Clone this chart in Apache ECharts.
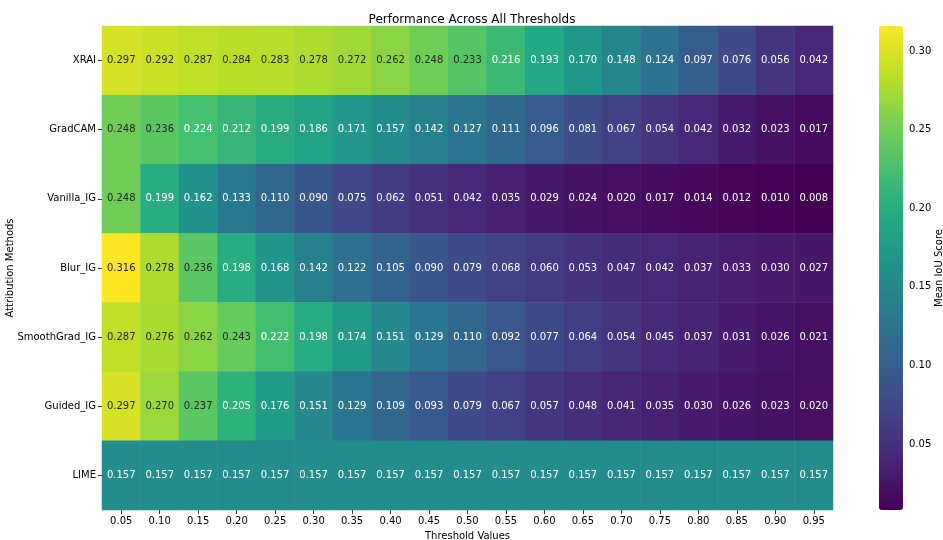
<!DOCTYPE html>
<html>
<head>
<meta charset="utf-8">
<script src="https://cdn.jsdelivr.net/npm/echarts@6/dist/echarts.min.js"></script>
<style>html,body{margin:0;padding:0;background:#fff}#chart{width:943px;height:540px}</style>
</head>
<body>
<div id="chart"></div>
<script>
var thresholds = ['0.05','0.10','0.15','0.20','0.25','0.30','0.35','0.40','0.45','0.50','0.55','0.60','0.65','0.70','0.75','0.80','0.85','0.90','0.95'];
var methods = ['XRAI','GradCAM','Vanilla_IG','Blur_IG','SmoothGrad_IG','Guided_IG','LIME'];
var xrai = [0.297,0.292,0.287,0.284,0.283,0.278,0.272,0.262,0.248,0.233,0.216,0.193,0.170,0.148,0.124,0.097,0.076,0.056,0.042];
var gradcam = [0.248,0.236,0.224,0.212,0.199,0.186,0.171,0.157,0.142,0.127,0.111,0.096,0.081,0.067,0.054,0.042,0.032,0.023,0.017];
var vanillaIG = [0.248,0.199,0.162,0.133,0.110,0.090,0.075,0.062,0.051,0.042,0.035,0.029,0.024,0.020,0.017,0.014,0.012,0.010,0.008];
var blurIG = [0.316,0.278,0.236,0.198,0.168,0.142,0.122,0.105,0.090,0.079,0.068,0.060,0.053,0.047,0.042,0.037,0.033,0.030,0.027];
var smoothGradIG = [0.287,0.276,0.262,0.243,0.222,0.198,0.174,0.151,0.129,0.110,0.092,0.077,0.064,0.054,0.045,0.037,0.031,0.026,0.021];
var guidedIG = [0.297,0.270,0.237,0.205,0.176,0.151,0.129,0.109,0.093,0.079,0.067,0.057,0.048,0.041,0.035,0.030,0.026,0.023,0.020];
var lime = [0.157,0.157,0.157,0.157,0.157,0.157,0.157,0.157,0.157,0.157,0.157,0.157,0.157,0.157,0.157,0.157,0.157,0.157,0.157];
var colorbarTicks = [0.05,0.10,0.15,0.20,0.25,0.30];

var rows = [xrai, gradcam, vanillaIG, blurIG, smoothGradIG, guidedIG, lime];
var vmin = 0.008, vmax = 0.316;
var viridis = ['#440154','#482475','#414487','#355f8d','#2a788e','#21918c','#22a884','#44bf70','#7ad151','#bddf26','#fde725'];
var FONT = 'DejaVu Sans';
var TXT = '#262626';

var data = [];
rows.forEach(function(r, yi){
  r.forEach(function(v, xi){
    data.push({value:[xi, yi, v], label:{color: v >= 0.23 ? TXT : '#ffffff'}});
  });
});

var chart = echarts.init(document.getElementById('chart'), null, {renderer:'canvas'});
chart.setOption({
  animation:false,
  backgroundColor:'#ffffff',
  textStyle:{fontFamily:FONT},
  title:{text:'Performance Across All Thresholds', left:467, top:9, textAlign:'center',
    textStyle:{fontFamily:FONT, fontSize:12, fontWeight:'normal', color:'#000'}},
  grid:[
    {left:102, top:26, width:731, height:484, containLabel:false, outerBoundsMode:'none'},
    {left:879, top:26, width:24, height:484, containLabel:false, outerBoundsMode:'none'}
  ],
  xAxis:[
    {type:'category', data:thresholds, gridIndex:0, position:'bottom',
     axisLine:{show:false}, splitArea:{show:false},
     axisTick:{show:true, alignWithLabel:true, length:4, lineStyle:{color:'#333'}},
     axisLabel:{fontFamily:FONT, fontSize:10, color:'#000', margin:6},
     name:'Threshold Values', nameLocation:'middle', nameGap:21, nameMoveOverlap:false,
     nameTextStyle:{fontFamily:FONT, fontSize:10, color:'#000'}},
    {type:'value', gridIndex:1, show:false, min:0, max:1}
  ],
  yAxis:[
    {type:'category', data:methods, gridIndex:0, inverse:true,
     axisLine:{show:false}, splitArea:{show:false},
     axisTick:{show:true, alignWithLabel:true, length:4, lineStyle:{color:'#333'}},
     axisLabel:{fontFamily:FONT, fontSize:10, color:'#000', margin:6},
     name:'Attribution Methods', nameLocation:'middle', nameGap:92, nameRotate:90, nameMoveOverlap:false,
     nameTextStyle:{fontFamily:FONT, fontSize:10, color:'#000', verticalAlign:'middle'}},
    {type:'value', gridIndex:1, position:'right', min:vmin, max:vmax,
     axisLine:{show:false}, splitLine:{show:false},
     axisTick:{show:true, length:4, lineStyle:{color:'#333'}, customValues:colorbarTicks},
     axisLabel:{fontFamily:FONT, fontSize:10, color:'#000', margin:6, customValues:colorbarTicks,
       formatter:function(v){return v.toFixed(2);}},
     name:'Mean IoU Score', nameLocation:'middle', nameGap:36, nameRotate:90, nameMoveOverlap:false,
     nameTextStyle:{fontFamily:FONT, fontSize:10, color:'#000', verticalAlign:'middle'}}
  ],
  visualMap:{
    type:'continuous', min:vmin, max:vmax, seriesIndex:0, dimension:2,
    calculable:false, orient:'vertical', left:879, top:26, padding:0,
    itemWidth:24, itemHeight:484, text:null, showLabel:false,
    inRange:{color:viridis}
  },
  series:[{
    type:'heatmap', xAxisIndex:0, yAxisIndex:0, data:data,
    label:{show:true, fontFamily:FONT, fontSize:10,
      formatter:function(p){return p.value[2].toFixed(3);}},
    itemStyle:{borderWidth:0},
    emphasis:{disabled:true}
  }]
});
</script>
</body>
</html>
